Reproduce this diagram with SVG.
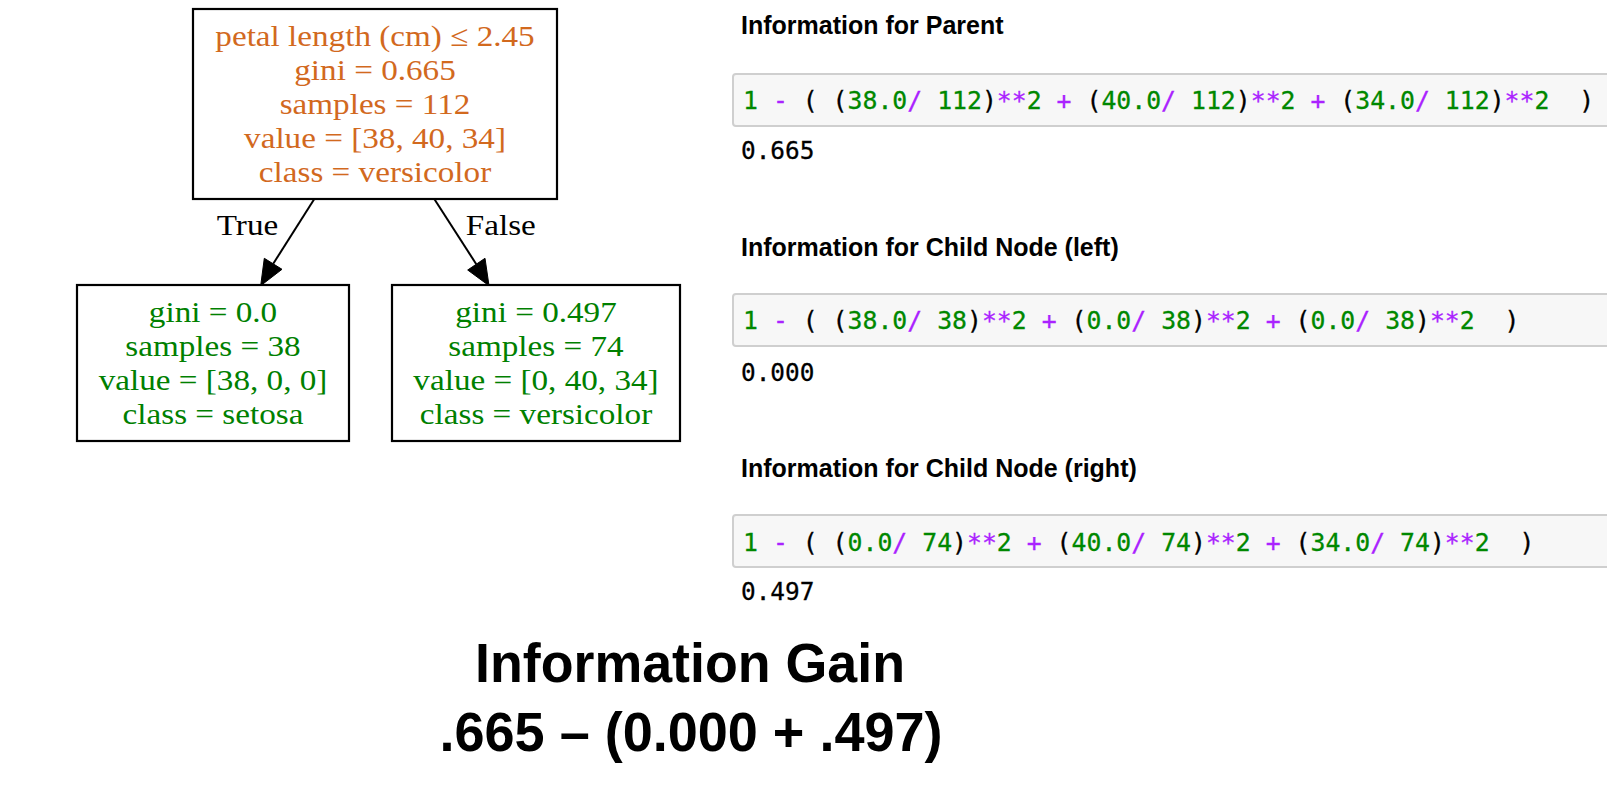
<svg xmlns="http://www.w3.org/2000/svg" width="1607" height="787" viewBox="0 0 1607 787">
<style>
.box{fill:#fff;stroke:#000;stroke-width:2.2}
.tt{font-family:"Liberation Serif","Times New Roman",serif;font-size:29.5px;text-anchor:middle}
.or{fill:#d2691e}
.gr{fill:#008000}
.lbl{fill:#000}
.edge{stroke:#000;stroke-width:2;fill:none}
.head{fill:#000;stroke:#000;stroke-width:1}
.h{font-family:"Liberation Sans",Arial,sans-serif;font-weight:bold;font-size:25px;fill:#000}
.cbox{fill:#f7f7f7;stroke:#cfcfcf;stroke-width:2}
.code{font-family:"DejaVu Sans Mono","Liberation Mono",monospace;font-size:24.8px;fill:#000;stroke:#000;stroke-width:0.3}
.out{font-family:"DejaVu Sans Mono","Liberation Mono",monospace;font-size:24.4px;fill:#000;stroke:#000;stroke-width:0.3}
.n{fill:#008800;stroke:#008800}
.o{fill:#aa22ff;stroke:#aa22ff}
.big{font-family:"Liberation Sans",Arial,sans-serif;font-weight:bold;font-size:56px;fill:#000;text-anchor:middle}
</style>

<g id="connectors">
  <line class="edge" x1="314.3" y1="199" x2="273.2" y2="263.8"/>
  <polygon class="head" points="260.7,285.7 264.3,258.3 282,269.3"/>
  <line class="edge" x1="434.3" y1="199" x2="476.3" y2="264.2"/>
  <polygon class="head" points="489,285.7 467.7,270 485,258.3"/>
  <g transform="translate(247.5,235) scale(1.125,1)"><text class="tt lbl" x="0" y="0">True</text></g>
  <g transform="translate(500.8,235) scale(1.125,1)"><text class="tt lbl" x="0" y="0">False</text></g>
</g>

<g id="root">
  <rect class="box" x="193" y="9" width="364" height="190"/>
  <g transform="translate(375,0) scale(1.125,1)">
    <text class="tt or" x="0" y="46">petal length (cm) ≤ 2.45</text>
    <text class="tt or" x="0" y="80">gini = 0.665</text>
    <text class="tt or" x="0" y="114">samples = 112</text>
    <text class="tt or" x="0" y="148">value = [38, 40, 34]</text>
    <text class="tt or" x="0" y="182">class = versicolor</text>
  </g>
</g>

<g id="left-child">
  <rect class="box" x="77" y="285" width="272" height="156"/>
  <g transform="translate(213,0) scale(1.125,1)">
    <text class="tt gr" x="0" y="322">gini = 0.0</text>
    <text class="tt gr" x="0" y="356">samples = 38</text>
    <text class="tt gr" x="0" y="390">value = [38, 0, 0]</text>
    <text class="tt gr" x="0" y="424">class = setosa</text>
  </g>
</g>

<g id="right-child">
  <rect class="box" x="392" y="285" width="288" height="156"/>
  <g transform="translate(536,0) scale(1.125,1)">
    <text class="tt gr" x="0" y="322">gini = 0.497</text>
    <text class="tt gr" x="0" y="356">samples = 74</text>
    <text class="tt gr" x="0" y="390">value = [0, 40, 34]</text>
    <text class="tt gr" x="0" y="424">class = versicolor</text>
  </g>
</g>

<g id="parent-info">
  <text class="h" x="741" y="34">Information for Parent</text>
  <rect class="cbox" x="733" y="74" width="900" height="52" rx="3"/>
  <text class="code" x="743" y="108.5" xml:space="preserve"><tspan class="n">1</tspan> <tspan class="o">-</tspan> ( (<tspan class="n">38.0</tspan><tspan class="o">/</tspan> <tspan class="n">112</tspan>)<tspan class="o">**</tspan><tspan class="n">2</tspan> <tspan class="o">+</tspan> (<tspan class="n">40.0</tspan><tspan class="o">/</tspan> <tspan class="n">112</tspan>)<tspan class="o">**</tspan><tspan class="n">2</tspan> <tspan class="o">+</tspan> (<tspan class="n">34.0</tspan><tspan class="o">/</tspan> <tspan class="n">112</tspan>)<tspan class="o">**</tspan><tspan class="n">2</tspan>  )</text>
  <text class="out" x="741" y="159">0.665</text>
</g>

<g id="left-info">
  <text class="h" x="741" y="256">Information for Child Node (left)</text>
  <rect class="cbox" x="733" y="294" width="900" height="52" rx="3"/>
  <text class="code" x="743" y="329" xml:space="preserve"><tspan class="n">1</tspan> <tspan class="o">-</tspan> ( (<tspan class="n">38.0</tspan><tspan class="o">/</tspan> <tspan class="n">38</tspan>)<tspan class="o">**</tspan><tspan class="n">2</tspan> <tspan class="o">+</tspan> (<tspan class="n">0.0</tspan><tspan class="o">/</tspan> <tspan class="n">38</tspan>)<tspan class="o">**</tspan><tspan class="n">2</tspan> <tspan class="o">+</tspan> (<tspan class="n">0.0</tspan><tspan class="o">/</tspan> <tspan class="n">38</tspan>)<tspan class="o">**</tspan><tspan class="n">2</tspan>  )</text>
  <text class="out" x="741" y="381">0.000</text>
</g>

<g id="right-info">
  <text class="h" x="741" y="477">Information for Child Node (right)</text>
  <rect class="cbox" x="733" y="515" width="900" height="52" rx="3"/>
  <text class="code" x="743" y="550.5" xml:space="preserve"><tspan class="n">1</tspan> <tspan class="o">-</tspan> ( (<tspan class="n">0.0</tspan><tspan class="o">/</tspan> <tspan class="n">74</tspan>)<tspan class="o">**</tspan><tspan class="n">2</tspan> <tspan class="o">+</tspan> (<tspan class="n">40.0</tspan><tspan class="o">/</tspan> <tspan class="n">74</tspan>)<tspan class="o">**</tspan><tspan class="n">2</tspan> <tspan class="o">+</tspan> (<tspan class="n">34.0</tspan><tspan class="o">/</tspan> <tspan class="n">74</tspan>)<tspan class="o">**</tspan><tspan class="n">2</tspan>  )</text>
  <text class="out" x="741" y="600">0.497</text>
</g>

<g id="gain">
  <text class="big" x="690" y="682" textLength="430" lengthAdjust="spacingAndGlyphs">Information Gain</text>
  <text class="big" x="691" y="751" textLength="503" lengthAdjust="spacingAndGlyphs">.665 – (0.000 + .497)</text>
</g>
</svg>
